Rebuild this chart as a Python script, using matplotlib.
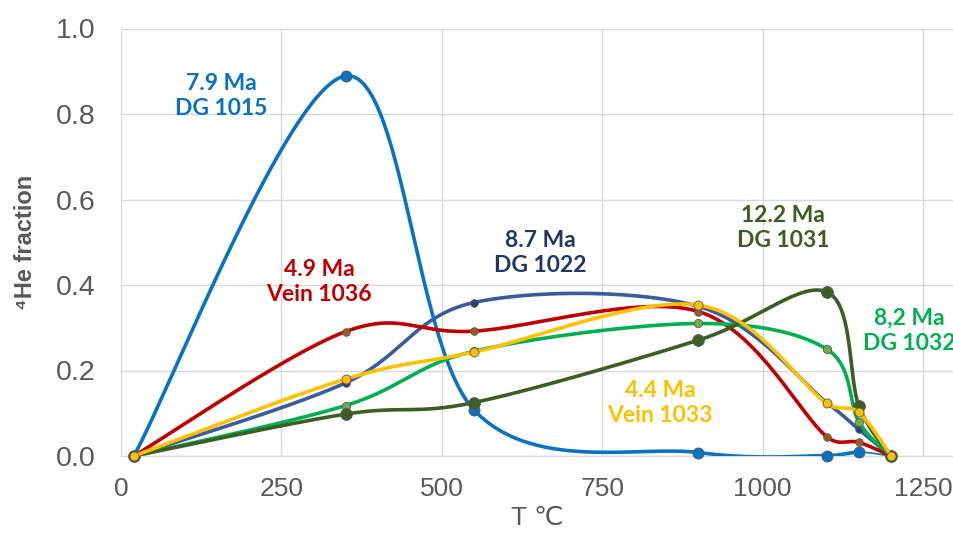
import numpy as np
import matplotlib
matplotlib.use("Agg")
import matplotlib.pyplot as plt

# step-heating temperatures (deg C) and 4He release fractions
T_1015 = [20, 350, 550, 900, 1100, 1150, 1200]
He_1015 = [0.0, 0.889, 0.108, 0.008, 0.001, 0.009, 0.0]

T_1022 = [20, 350, 550, 900, 1100, 1150, 1200]
He_1022 = [0.0, 0.171, 0.359, 0.350, 0.125, 0.062, 0.0]

T_1036 = [20, 350, 550, 900, 1100, 1150, 1200]
He_1036 = [0.0, 0.291, 0.292, 0.338, 0.045, 0.032, 0.0]

T_1032 = [20, 350, 550, 900, 1100, 1150, 1200]
He_1032 = [0.0, 0.118, 0.245, 0.310, 0.250, 0.080, 0.0]

T_1031 = [20, 350, 550, 900, 1100, 1150, 1200]
He_1031 = [0.0, 0.098, 0.125, 0.271, 0.384, 0.118, 0.0]

T_1033 = [20, 350, 550, 900, 1100, 1150, 1200]
He_1033 = [0.0, 0.180, 0.243, 0.353, 0.123, 0.102, 0.0]

labels = {
    "1015": "7.9 Ma\nDG 1015",
    "1036": "4.9 Ma\nVein 1036",
    "1022": "8.7 Ma\nDG 1022",
    "1031": "12.2 Ma\nDG 1031",
    "1032": "8,2 Ma\nDG 1032",
    "1033": "4.4 Ma\nVein 1033",
}

x_ticks = [0, 250, 500, 750, 1000, 1250]
y_ticks = [0.0, 0.2, 0.4, 0.6, 0.8, 1.0]


def excel_smooth(xs, ys, sx, sy, n=60):
    # Bezier smoothing like Excel's "smoothed line", done in screen units
    p = np.column_stack([np.asarray(xs, float) * sx, np.asarray(ys, float) * sy])
    out = [p[0]]
    t = np.linspace(0, 1, n)[1:, None]
    for i in range(len(p) - 1):
        p0 = p[i - 1] if i > 0 else p[i]
        p1 = p[i]
        p2 = p[i + 1]
        p3 = p[i + 2] if i + 2 < len(p) else p[i + 1]
        d12 = np.linalg.norm(p2 - p1)
        d02 = np.linalg.norm(p2 - p0)
        d13 = np.linalg.norm(p3 - p1)
        f1 = 1 / 6 if d02 / 6 < d12 / 2 else d12 / (2 * d02)
        f2 = 1 / 6 if d13 / 6 < d12 / 2 else d12 / (2 * d13)
        c1 = p1 + f1 * (p2 - p0)
        c2 = p2 - f2 * (p3 - p1)
        seg = ((1 - t) ** 3) * p1 + 3 * ((1 - t) ** 2) * t * c1 + 3 * (1 - t) * t ** 2 * c2 + t ** 3 * p2
        out.extend(seg)
    out = np.array(out)
    return out[:, 0] / sx, out[:, 1] / sy


W, H = 954, 539
fig = plt.figure(figsize=(W / 100, H / 100), dpi=100)
ax = fig.add_axes([121 / W, (H - 456) / H, (953 - 121) / W, 427.5 / H])
xmax = (953 - 121) / (160.4 / 250)
ax.set_xlim(0, xmax)
ax.set_ylim(0, 1.0)
sx = (953 - 121) / xmax
sy = 427.5

# (T, He, line colour, marker face, marker size, zorder, last segment thin)
series = [
    (T_1022, He_1022, "#3A5B9C", "#264478", 5.5, 2, False),
    (T_1015, He_1015, "#0A72C2", "#0A72C2", 8, 3, True),
    (T_1036, He_1036, "#C00000", "#9E5A1E", 5.5, 4, False),
    (T_1032, He_1032, "#00B050", "#70AD47", 6, 5, False),
    (T_1031, He_1031, "#3B5E23", "#3B5E23", 8.5, 6, False),
    (T_1033, He_1033, "#FFC000", "#FFC000", 6.5, 7, False),
]
for T, He, col, mcol, ms, z, thin_end in series:
    xs, ys = excel_smooth(T, He, sx, sy)
    if thin_end:
        cut = xs <= T[-2]
        ax.plot(xs[cut], ys[cut], color=col, lw=2.6, zorder=z, solid_capstyle="round")
        ax.plot(xs[~cut], ys[~cut], color=col, lw=1.2, zorder=z)
    else:
        ax.plot(xs, ys, color=col, lw=2.6, zorder=z, solid_capstyle="round")
    ax.plot(T, He, linestyle="none", marker="o", ms=ms, mfc=mcol,
            mec="#5A5A5A", mew=0.6, zorder=z + 0.5, clip_on=False)

ann_font = ["Lato", "DejaVu Sans"]
ann = dict(ha="center", va="center", fontsize=16.5, fontweight="bold",
           family=ann_font, linespacing=1.25)
ax.text(156, 0.842, labels["1015"], color="#0A72C2", **ann)
ax.text(309, 0.407, labels["1036"], color="#C00000", **ann)
ax.text(653, 0.475, labels["1022"], color="#203864", **ann)
ax.text(1032, 0.533, labels["1031"], color="#3B5E23", **ann)
ax.text(1228, 0.292, labels["1032"], color="#00B050", **ann)
ax.text(840, 0.124, labels["1033"], color="#FFC000", **ann)

ax.set_xticks(x_ticks)
ax.set_yticks(y_ticks)
ax.set_yticklabels([f"{v:.1f}" for v in y_ticks], family=["Liberation Sans", "DejaVu Sans"],
                   fontsize=20.5, color="#595959")
ax.set_xticklabels([str(v) for v in x_ticks], family=["Liberation Sans", "DejaVu Sans"],
                   fontsize=19, color="#595959")
ax.tick_params(axis="both", length=0)
ax.tick_params(axis="y", pad=18)
ax.tick_params(axis="x", pad=15)

ax.grid(True, color="#D9D9D9", lw=1.0)
ax.set_axisbelow(True)
for s in ["top", "right", "left"]:
    ax.spines[s].set_visible(False)
ax.spines["bottom"].set_color("#D9D9D9")
ax.spines["bottom"].set_linewidth(1.0)

ax.set_xlabel("T ℃", family=["Liberation Sans", "DejaVu Sans"], fontsize=19,
              color="#595959", labelpad=4)
ax.set_ylabel("⁴He fraction", family=["Liberation Sans", "DejaVu Sans"], fontsize=17,
              fontweight="bold", color="#595959", labelpad=14)

fig.savefig("out.png", dpi=100)
